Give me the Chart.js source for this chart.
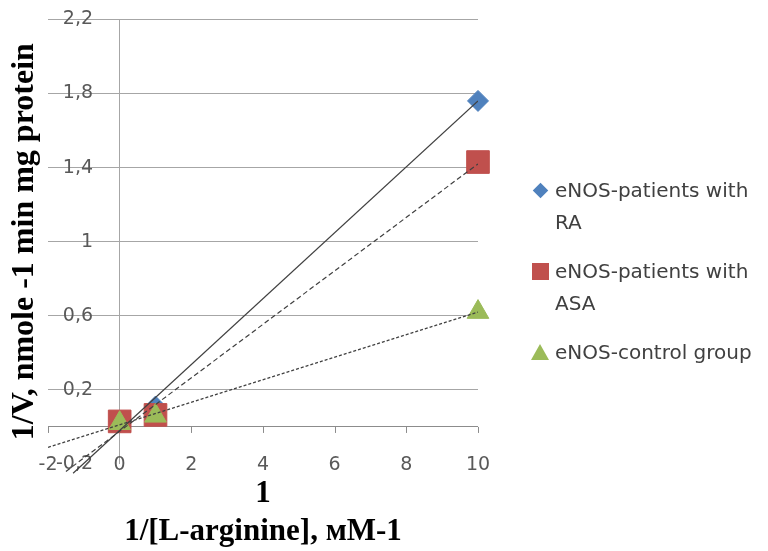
<!DOCTYPE html>
<html lang="en">
<head>
<meta charset="UTF-8">
<title>eNOS kinetics</title>
<script src="https://cdn.jsdelivr.net/npm/chart.js@4"></script>
<style>
  body { margin: 0; background: #fff; }
  #wrap { position: relative; width: 768px; height: 551px; }
  #legend { position: absolute; left: 528px; top: 174px; font-family: "DejaVu Sans"; font-size: 20px; color: #404040; }
  .item { display: flex; margin-bottom: 17px; }
  .mark { width: 24px; height: 32px; display: flex; align-items: center; justify-content: center; margin-right: 3px; }
  .txt { line-height: 32px; white-space: pre-line; }
</style>
</head>
<body>
<div id="wrap">
  <canvas id="chart"></canvas>
  <div id="legend"></div>
</div>
<script>
// values
const xValues = [0, 1, 10];
const raValues = [0.03, 0.11, 1.76];
const asaValues = [0.03, 0.065, 1.43];
const controlValues = [0.02, 0.06, 0.62];

// trend line end points (x, y)
const raTrendX = [-1.3, 10];
const raTrendY = [-0.25, 1.76];
const asaTrendX = [-1.5, 10];
const asaTrendY = [-0.24, 1.42];
const controlTrendX = [-2, 10];
const controlTrendY = [-0.11, 0.62];

const xTicks = [-2, 0, 2, 4, 6, 8, 10];
const yTicks = [-0.2, 0, 0.2, 0.6, 1, 1.4, 1.8, 2.2];

const seriesLabels = ['eNOS-patients with\nRA', 'eNOS-patients with\nASA', 'eNOS-control group'];
const seriesColors = ['#4F81BD', '#C0504D', '#9BBB59'];

const pts = (xs, ys) => ys.map((y, i) => ({ x: xs[i], y: y }));

// small tick marks on the y = 0 axis line
const zeroTicks = {
    id: 'zeroTicks',
    beforeDatasetsDraw(chart) {
        const c = chart.ctx;
        const y0 = chart.scales.y.getPixelForValue(0);
        c.save();
        c.strokeStyle = '#8c8c8c';
        c.lineWidth = 1;
        c.beginPath();
        xTicks.forEach(v => {
            const px = Math.round(chart.scales.x.getPixelForValue(v)) + 0.5;
            c.moveTo(px, y0);
            c.lineTo(px, y0 + 6);
        });
        c.stroke();
        c.restore();
    }
};

const trendLine = (label, xs, ys, dash) => ({
    label: label,
    data: pts(xs, ys),
    showLine: true,
    borderColor: '#404040',
    borderWidth: 1.2,
    borderDash: dash,
    pointRadius: 0,
    order: 0,
    clip: { left: 0, top: 0, right: 0, bottom: 14 }
});

new Chart(document.getElementById('chart'), {
    type: 'scatter',
    data: {
        datasets: [
            trendLine('trend RA', raTrendX, raTrendY, []),
            trendLine('trend ASA', asaTrendX, asaTrendY, [5, 3]),
            trendLine('trend control', controlTrendX, controlTrendY, [3, 2]),
            {
                label: seriesLabels[2],
                data: pts(xValues, controlValues),
                pointStyle: 'triangle',
                pointRadius: 12.5,
                backgroundColor: seriesColors[2],
                borderColor: seriesColors[2],
                order: 1,
                clip: false
            },
            {
                label: seriesLabels[1],
                data: pts(xValues, asaValues),
                pointStyle: 'rect',
                pointRadius: 16,
                backgroundColor: seriesColors[1],
                borderColor: seriesColors[1],
                order: 2,
                clip: false
            },
            {
                label: seriesLabels[0],
                data: pts(xValues, raValues),
                pointStyle: 'rectRot',
                pointRadius: 10.5,
                backgroundColor: seriesColors[0],
                borderColor: seriesColors[0],
                order: 3,
                clip: false
            }
        ]
    },
    options: {
        responsive: true,
        maintainAspectRatio: false,
        animation: false,
        layout: { padding: { top: 18, right: 290, left: 0, bottom: 0 } },
        plugins: { legend: { display: false }, tooltip: { enabled: false } },
        scales: {
            x: {
                min: -2,
                max: 10,
                afterBuildTicks: s => { s.ticks = xTicks.map(v => ({ value: v })); },
                afterFit: s => { s.height = 87; },
                ticks: {
                    mirror: true,
                    padding: -12,
                    color: '#595959',
                    font: { family: 'DejaVu Sans', size: 19 },
                    callback: v => String(v)
                },
                grid: {
                    drawTicks: false,
                    color: c => c.tick && c.tick.value === 0 ? '#a6a6a6' : 'rgba(0,0,0,0)'
                },
                border: { display: false },
                title: {
                    display: true,
                    text: ['1', '1/[L-arginine], мМ-1'],
                    color: '#000',
                    font: { family: 'Liberation Serif', size: 31, weight: 'bold', lineHeight: 1.22 },
                    padding: { top: 0, bottom: 0 }
                }
            },
            y: {
                min: -0.2,
                max: 2.2,
                afterBuildTicks: s => { s.ticks = yTicks.map(v => ({ value: v })); },
                afterFit: s => { s.width = 48; },
                ticks: {
                    mirror: true,
                    crossAlign: 'far',
                    padding: 8,
                    color: '#595959',
                    font: { family: 'DejaVu Sans', size: 19 },
                    callback: v => v === 0 ? '' : String(v).replace('.', ',')
                },
                grid: {
                    drawTicks: false,
                    color: c => {
                        if (!c.tick) return 'rgba(0,0,0,0)';
                        if (c.tick.value === -0.2) return 'rgba(0,0,0,0)';
                        if (c.tick.value === 0) return '#8c8c8c';
                        return '#a6a6a6';
                    }
                },
                border: { display: false },
                title: {
                    display: true,
                    text: '1/V, nmole -1 min mg protein',
                    color: '#000',
                    font: { family: 'Liberation Serif', size: 32, weight: 'bold' },
                    padding: { top: 6, bottom: 0 }
                }
            }
        }
    },
    plugins: [zeroTicks]
});

// html legend
const shapes = [
    '<div style="width:11px;height:11px;transform:rotate(45deg);background:' + seriesColors[0] + '"></div>',
    '<div style="width:17px;height:17px;background:' + seriesColors[1] + '"></div>',
    '<div style="width:0;height:0;border-left:9px solid transparent;border-right:9px solid transparent;border-bottom:16px solid ' + seriesColors[2] + '"></div>'
];
document.getElementById('legend').innerHTML = seriesLabels.map((t, i) =>
    '<div class="item"><div class="mark">' + shapes[i] + '</div><div class="txt">' + t + '</div></div>'
).join('');
</script>
</body>
</html>
